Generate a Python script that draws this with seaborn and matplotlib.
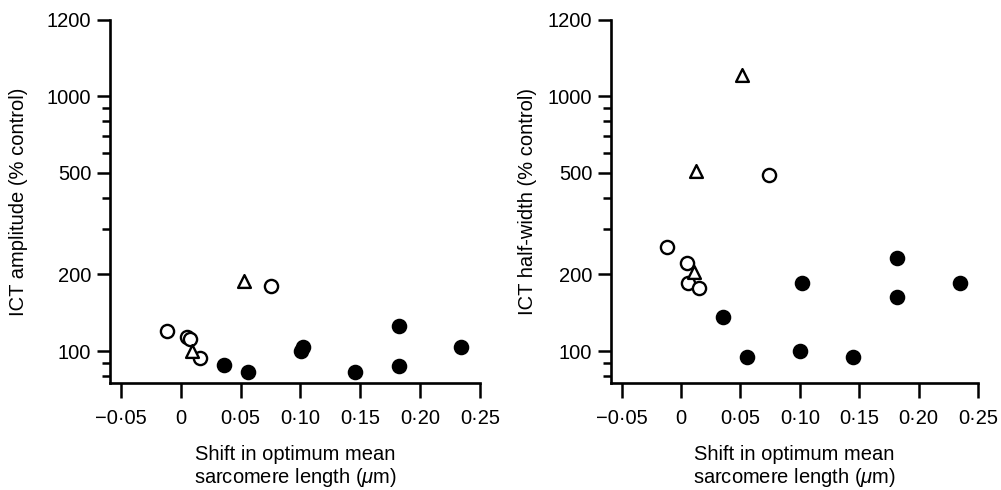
import numpy as np
import pandas as pd
import matplotlib
matplotlib.use('Agg')
import matplotlib.pyplot as plt
import seaborn as sns

# data (x: shift in optimum SL, um ; y: % control)
amp_open_x = [-0.0111, 0.0056, 0.0075, 0.0159, 0.0758]
amp_open_y = [119.8, 113.8, 111.4, 93.6, 180.4]
amp_tri_x = [0.0098, 0.0529]
amp_tri_y = [100.3, 188.2]
amp_fill_x = [0.0362, 0.0565, 0.1018, 0.1003, 0.1455, 0.1825, 0.1825, 0.2339]
amp_fill_y = [88.4, 82.9, 103.4, 100.0, 82.5, 125.7, 87.3, 103.4]

hw_open_x = [-0.0120, 0.0048, 0.0061, 0.0154, 0.0743]
hw_open_y = [255.0, 221.4, 184.7, 176.5, 488.6]
hw_tri_x = [0.0112, 0.0124, 0.0511]
hw_tri_y = [204.0, 508.0, 1055.0]
hw_fill_x = [0.0356, 0.0553, 0.1016, 0.1002, 0.1450, 0.1818, 0.1818, 0.2348]
hw_fill_y = [135.7, 94.4, 184.7, 100.0, 94.4, 230.9, 163.2, 184.7]

x_ticks = [-0.05, 0, 0.05, 0.10, 0.15, 0.20, 0.25]
x_labels = ['\u22120\u00b705', '0', '0\u00b705', '0\u00b710', '0\u00b715', '0\u00b720', '0\u00b725']
y_ticks = [100, 200, 500, 1000, 1200]
y_labels = ['100', '200', '500', '1000', '1200']
y_minor = [80, 90, 300, 400, 600, 700, 800, 900]

sns.set_style('ticks')
plt.rcParams['font.family'] = ['Liberation Sans', 'DejaVu Sans']
plt.rcParams['mathtext.fontset'] = 'custom'
plt.rcParams['mathtext.it'] = 'Liberation Sans:italic'
plt.rcParams['mathtext.rm'] = 'Liberation Sans'
for k in ['text.color', 'axes.labelcolor', 'xtick.color', 'ytick.color', 'axes.edgecolor']:
    plt.rcParams[k] = 'black'

FS = 14.5

# log axis up to 1000, then a short linear stretch up to 1200
TOP_SPAN = 76 / 255.0

def forward(y):
    y = np.asarray(y, dtype=float)
    lo = np.log10(np.clip(y, 1e-3, None))
    hi = 3 + (y - 1000) / 200 * TOP_SPAN
    return np.where(y <= 1000, lo, hi)

def inverse(u):
    u = np.asarray(u, dtype=float)
    return np.where(u <= 3, 10 ** np.minimum(u, 3), 1000 + (u - 3) / TOP_SPAN * 200)

fig = plt.figure(figsize=(10.01, 4.9), dpi=100)
ax1 = fig.add_axes([0.1099, 0.2184, 0.3696, 0.7408])
ax2 = fig.add_axes([0.6104, 0.2184, 0.3666, 0.7408])

panels = [
    (ax1, amp_open_x, amp_open_y, amp_tri_x, amp_tri_y, amp_fill_x, amp_fill_y, 'ICT amplitude (% control)', -0.222),
    (ax2, hw_open_x, hw_open_y, hw_tri_x, hw_tri_y, hw_fill_x, hw_fill_y, 'ICT half-width (% control)', -0.202),
]

for ax, ox, oy, tx, ty, fx, fy, ylab, ylx in panels:
    ax.set_yscale('function', functions=(forward, inverse))
    fill = pd.DataFrame({'x': fx, 'y': fy})
    tri = pd.DataFrame({'x': tx, 'y': ty})
    opn = pd.DataFrame({'x': ox, 'y': oy})
    sns.scatterplot(data=fill, x='x', y='y', marker='o', s=100, color='black',
                    edgecolor='black', linewidth=1.2, ax=ax, zorder=3)
    sns.scatterplot(data=opn, x='x', y='y', marker='o', s=90, facecolor='white',
                    edgecolor='black', linewidth=1.7, ax=ax, zorder=4)
    sns.scatterplot(data=tri, x='x', y='y', marker='^', s=85, facecolor='white',
                    edgecolor='black', linewidth=1.7, ax=ax, zorder=5)
    ax.set_xlim(-0.059, 0.25)
    ax.set_ylim(75, 1200)
    ax.set_xticks(x_ticks)
    ax.set_xticklabels(x_labels, fontsize=FS)
    ax.set_yticks(y_ticks)
    ax.set_yticklabels(y_labels, fontsize=FS)
    ax.set_yticks(y_minor, minor=True)
    ax.yaxis.set_minor_formatter(matplotlib.ticker.NullFormatter())
    ax.tick_params(axis='both', which='major', direction='out', length=9.5, width=1.8, pad=4)
    ax.tick_params(axis='x', which='major', length=11, pad=8)
    ax.tick_params(axis='y', which='minor', direction='out', length=6, width=1.8)
    sns.despine(ax=ax)
    for s in ['left', 'bottom']:
        ax.spines[s].set_linewidth(1.9)
    ax.set_ylabel(ylab, fontsize=FS)
    ax.yaxis.set_label_coords(ylx, 0.5)
    ax.set_xlabel('Shift in optimum mean\nsarcomere length ($\\mu$m)', fontsize=FS, linespacing=1.15)
    ax.xaxis.set_label_coords(0.5, -0.17)

fig.savefig('out.png', dpi=100, facecolor='white')
